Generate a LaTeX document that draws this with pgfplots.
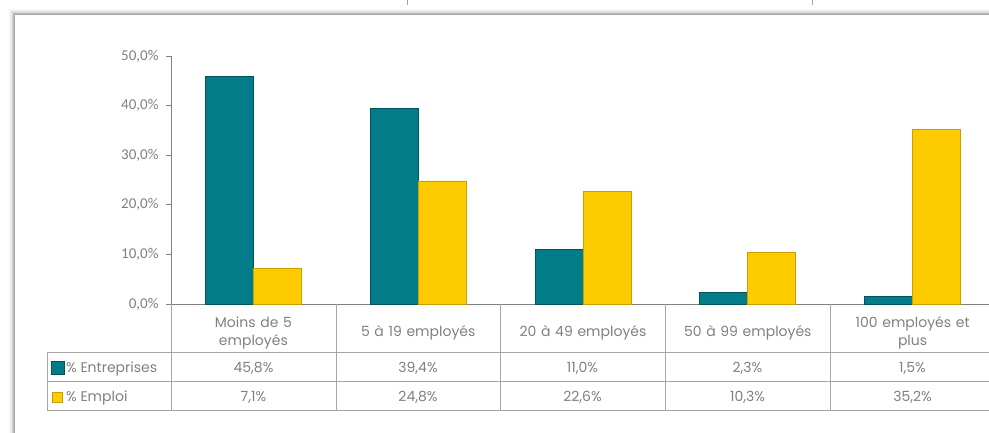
\documentclass[border=0pt]{standalone}
\usepackage{pgfplots}
\pgfplotsset{compat=1.18}
\usepackage{fontspec}
\setmainfont{Carlito}
\newfontfamily\gothic{Poppins}
\definecolor{teal1}{HTML}{027C88}
\definecolor{teald}{HTML}{01545C}
\definecolor{yel1}{HTML}{FECB00}
\definecolor{yeld}{HTML}{C9A000}
\definecolor{txt}{HTML}{808080}
\definecolor{grid1}{HTML}{A6A6A6}
\begin{document}
\begin{tikzpicture}
\useasboundingbox (0,0) rectangle (989pt,433pt);
\clip (0,0) rectangle (989pt,433pt);
% frame shadow
\begin{scope}[x=1pt,y=1pt]
\foreach \i/\o in {0/0.35,1/0.25,2/0.17,3/0.1,4/0.06,5/0.03}
  \draw[black,opacity=\o,line width=1pt] (14.5-\i,-10) -- (14.5-\i,418.5+\i) -- (1000,418.5+\i);
\draw[grid1,line width=1pt] (407,433) -- (407,428);
\draw[grid1,line width=1pt] (812,433) -- (812,428);
\end{scope}
\begin{axis}[
  at={(171pt,129pt)}, anchor=south west,
  scale only axis, width=824pt, height=248pt,
  xmin=-0.5, xmax=4.5, ymin=0, ymax=50,
  axis lines=left, axis line style={-, draw=txt, line width=0.8pt},
  ybar=0pt, bar width=48pt,
  xtick={0,1,2,3,4},
  xticklabels={{Moins de 5\\employés},{5 à 19 employés},{20 à 49 employés},{50 à 99 employés},{100 employés et\\plus}},
  xtick style={draw=none},
  xticklabel style={anchor=center, yshift=-24pt, text width=150pt, align=center, font=\gothic\fontsize{14}{18}\selectfont, text=txt},
  ytick={0,10,20,30,40,50},
  yticklabels={{0,0\%},{10,0\%},{20,0\%},{30,0\%},{40,0\%},{50,0\%}},
  yticklabel style={font=\fontsize{15}{17}\selectfont, text=txt, xshift=-4pt},
  tick align=outside, major tick length=5pt,
  ytick style={draw=txt, line width=0.8pt},
  clip=false,
]
\addplot[fill=teal1, draw=teald, line width=0.9pt] coordinates {(0,45.8) (1,39.4) (2,11.0) (3,2.3) (4,1.5)};
\addplot[fill=yel1, draw=yeld, line width=0.9pt] coordinates {(0,7.1) (1,24.8) (2,22.6) (3,10.3) (4,35.2)};
\end{axis}
\begin{scope}[x=1pt,y=1pt]
% table grid
\draw[grid1,line width=0.8pt] (47,81) -- (995,81);
\draw[grid1,line width=0.8pt] (47,52) -- (995,52);
\draw[grid1,line width=0.8pt] (47,23) -- (995,23);
\draw[grid1,line width=0.8pt] (47,81) -- (47,23);
\foreach \x in {171,336,500,665,830,995}
  \draw[grid1,line width=0.8pt] (\x,129) -- (\x,23);
% legend keys
\fill[teal1] (51,58.5) rectangle (64,71.5);
\draw[teald,line width=0.6pt] (51,58.5) rectangle (64,71.5);
\fill[yel1] (52,31) rectangle (62,41);
\draw[yeld,line width=0.6pt] (52,31) rectangle (62,41);
\node[anchor=west, inner sep=0, text=txt, font=\gothic\fontsize{14}{16}\selectfont] at (66,64.5) {\% Entreprises};
\node[anchor=west, inner sep=0, text=txt, font=\gothic\fontsize{14}{16}\selectfont] at (66,35.5) {\% Emploi};
\foreach \c/\a/\b in {253.5/{45,8\%}/{7,1\%},418/{39,4\%}/{24,8\%},582.5/{11,0\%}/{22,6\%},747.5/{2,3\%}/{10,3\%},912.5/{1,5\%}/{35,2\%}}{
  \node[text=txt, font=\gothic\fontsize{14}{16}\selectfont] at (\c,64.5) {\a};
  \node[text=txt, font=\gothic\fontsize{14}{16}\selectfont] at (\c,35.5) {\b};
}
\end{scope}
\end{tikzpicture}
\end{document}
